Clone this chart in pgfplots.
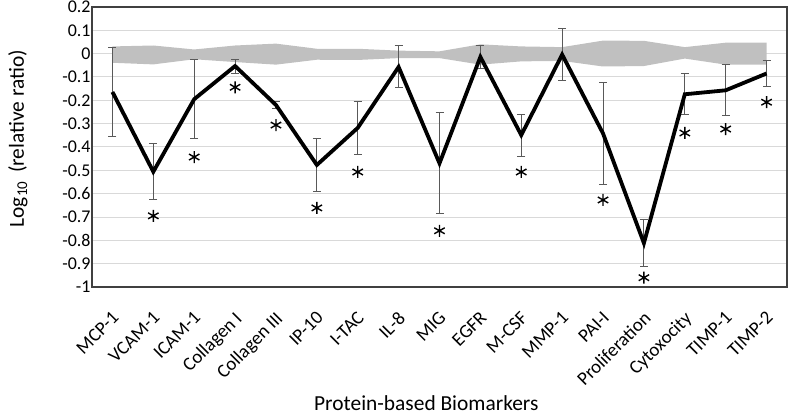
\documentclass[border=0pt]{standalone}
\usepackage{pgfplots}
\pgfplotsset{compat=1.18}
\usepackage{pgfplotstable}
\usepackage{fontspec}
\setmainfont{Carlito}
\definecolor{bandgray}{HTML}{C0C0C0}
\definecolor{gridgray}{HTML}{D9D9D9}
\definecolor{errgray}{HTML}{595959}
\definecolor{framegray}{HTML}{404040}

\pgfplotstableread{
x   y       err    top    bot
0   -0.164  0.190  0.031  -0.039
1   -0.506  0.120  0.035  -0.046
2   -0.195  0.170  0.018  -0.024
3   -0.053  0.030  0.035  -0.036
4   -0.220  0.015  0.043  -0.047
5   -0.477  0.113  0.021  -0.026
6   -0.318  0.114  0.021  -0.027
7   -0.057  0.090  0.013  -0.019
8   -0.470  0.216  0.010  -0.019
9   -0.014  0.050  0.040  -0.047
10  -0.349  0.090  0.031  -0.033
11  -0.004  0.110  0.028  -0.031
12  -0.342  0.217  0.056  -0.055
13  -0.812  0.100  0.055  -0.053
14  -0.174  0.087  0.028  -0.021
15  -0.157  0.110  0.047  -0.047
16  -0.085  0.054  0.047  -0.047
}\datatable

\pgfplotstableread{
x   s
1   -0.695
2   -0.443
3   -0.144
4   -0.306
5   -0.661
6   -0.507
8   -0.759
10  -0.507
12  -0.627
13  -0.960
14  -0.340
15  -0.323
16  -0.208
}\startable

\begin{document}
\begin{tikzpicture}
\begin{axis}[
  at={(0,0)}, anchor=south west,
  scale only axis, width=695bp, height=280bp,
  xmin=-0.5, xmax=16.5, ymin=-1, ymax=0.2,
  xtick={0,...,16},
  xticklabels={MCP-1,VCAM-1,ICAM-1,Collagen I,Collagen III,IP-10,I-TAC,IL-8,MIG,EGFR,M-CSF,MMP-1,PAI-I,Proliferation,Cytoxocity,TIMP-1,TIMP-2},
  ytick={-1,-0.9,...,0.21},
  yticklabel style={/pgf/number format/fixed, /pgf/number format/precision=1, font=\fontsize{18}{21}\selectfont, xshift=2bp},
  /pgf/number format/assume math mode=true,
  xticklabel style={rotate=45, anchor=north east, font=\fontsize{19}{22}\selectfont, xshift=-14bp, yshift=-12bp},
  major tick length=0pt,
  ymajorgrids, grid style={gridgray, line width=1bp},
  axis line style={framegray, line width=1.3bp},
  xlabel={Protein-based Biomarkers},
  ylabel={Log\textsubscript{10}\, (relative ratio)},
  xlabel style={font=\fontsize{21.5}{24}\selectfont, at={(axis description cs:0.481,-0.416)}, anchor=center},
  ylabel style={font=\fontsize{21.5}{24}\selectfont, at={(axis description cs:-0.1065,0.53)}, anchor=center, rotate=0},
]
\addplot[fill=bandgray, draw=none] coordinates {
 (0,0.031) (1,0.035) (2,0.018) (3,0.035) (4,0.043) (5,0.021) (6,0.021) (7,0.013) (8,0.010) (9,0.040) (10,0.031) (11,0.028) (12,0.056) (13,0.055) (14,0.028) (15,0.047) (16,0.047)
 (16,-0.047) (15,-0.047) (14,-0.021) (13,-0.053) (12,-0.055) (11,-0.031) (10,-0.033) (9,-0.047) (8,-0.019) (7,-0.019) (6,-0.027) (5,-0.026) (4,-0.047) (3,-0.036) (2,-0.024) (1,-0.046) (0,-0.039)
};
\addplot[draw=none, mark=none,
  error bars/.cd, y dir=both, y explicit,
  error bar style={draw=errgray, line width=1bp, solid},
  error mark options={draw=errgray, line width=1bp, mark size=4bp, rotate=90}]
  table[x=x, y=y, y error=err] {\datatable};
\addplot[black, line width=3.8bp, mark=none, line join=miter, miter limit=10] table[x=x, y=y] {\datatable};
\addplot[only marks, mark=asterisk, mark size=6bp, mark options={black, line width=1.4bp}] table[x=x, y=s] {\startable};
\end{axis}
\pgfresetboundingbox
\path[use as bounding box] (-92bp,-126bp) rectangle (696bp,287bp);
\end{tikzpicture}
\end{document}
